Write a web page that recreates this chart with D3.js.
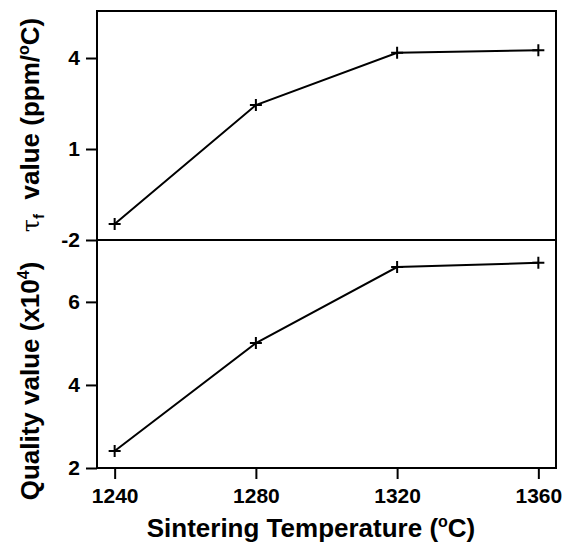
<!DOCTYPE html>
<html><head><meta charset="utf-8">
<script src="https://cdn.jsdelivr.net/npm/d3@7"></script>
<style>body{margin:0;background:#fff}</style>
</head><body>
<script>
const temps = [1240, 1280, 1320, 1360];
const tauValues = [-1.47, 2.45, 4.17, 4.26];
const qualityValues = [2.41, 5.01, 6.84, 6.94];
const xTicks = [1240, 1280, 1320, 1360];
const tauTicks = [-2, 1, 4];
const qualityTicks = [2, 4, 6];

const W = 568, H = 549;
const left = 97, right = 556, top1 = 11, mid = 240, bottom = 468;
const font = "'Liberation Sans', Arial, sans-serif";

const svg = d3.select("body").append("svg").attr("width", W).attr("height", H);

const x = d3.scaleLinear().domain([1235, 1365]).range([left, right]);
const yT = d3.scaleLinear().domain([-2, 5.55]).range([mid, top1]);
const yQ = d3.scaleLinear().domain([2, 7.49]).range([bottom, mid]);

function panel(y, vals, ticks, y0, y1) {
  const g = svg.append("g");
  g.append("rect").attr("x", left).attr("y", y1).attr("width", right - left).attr("height", y0 - y1)
    .attr("fill", "none").attr("stroke", "#000").attr("stroke-width", 2);
  const ax = g.append("g").attr("transform", `translate(${left},0)`)
    .call(d3.axisLeft(y).tickValues(ticks).tickSize(11).tickPadding(6).tickFormat(d => String(d)));
  ax.select(".domain").remove();
  ax.selectAll(".tick line").attr("stroke-width", 2);
  ax.selectAll(".tick text").attr("font-family", font).attr("font-weight", "bold").attr("font-size", 21).attr("fill", "#000");
  const line = d3.line().x((d, i) => x(temps[i])).y(d => y(d));
  g.append("path").datum(vals).attr("d", line).attr("fill", "none").attr("stroke", "#000").attr("stroke-width", 2);
  const s = 6;
  g.selectAll(".pt").data(vals).enter().append("path")
    .attr("d", (d, i) => { const px = x(temps[i]), py = y(d); return `M${px - s},${py}H${px + s}M${px},${py - s}V${py + s}`; })
    .attr("stroke", "#000").attr("stroke-width", 2);
}
panel(yT, tauValues, tauTicks, mid, top1);
panel(yQ, qualityValues, qualityTicks, bottom, mid);

const xa = svg.append("g").attr("transform", `translate(0,${bottom})`)
  .call(d3.axisBottom(x).tickValues(xTicks).tickSize(11).tickPadding(9).tickFormat(d => String(d)));
xa.select(".domain").remove();
xa.selectAll(".tick line").attr("stroke-width", 2);
xa.selectAll(".tick text").attr("font-family", font).attr("font-weight", "bold").attr("font-size", 21).attr("fill", "#000");

// x title
const xt = svg.append("text").attr("x", 311).attr("y", 537).attr("text-anchor", "middle")
  .attr("font-family", font).attr("font-weight", "bold").attr("font-size", 26);
xt.append("tspan").text("Sintering Temperature (");
xt.append("tspan").attr("font-size", 16).attr("dy", -10).text("o");
xt.append("tspan").attr("dy", 10).text("C)");

// top y title
const yt1 = svg.append("text").attr("transform", "translate(39,125) rotate(-90)").attr("text-anchor", "middle")
  .attr("xml:space", "preserve").style("white-space", "pre")
  .attr("font-family", font).attr("font-weight", "bold").attr("font-size", 26);
yt1.append("tspan").attr("font-weight", "normal").attr("font-family", "'DejaVu Serif', serif").attr("font-size", 24).text("τ");
yt1.append("tspan").attr("font-size", 15).attr("dy", 5).text("f");
yt1.append("tspan").attr("dy", -5).text("  value (ppm/");
yt1.append("tspan").attr("font-size", 16).attr("dy", -10).text("o");
yt1.append("tspan").attr("dy", 10).text("C)");

// bottom y title
const yt2 = svg.append("text").attr("transform", "translate(39,381) rotate(-90)").attr("text-anchor", "middle")
  .attr("font-family", font).attr("font-weight", "bold").attr("font-size", 26);
yt2.append("tspan").text("Quality value (x10");
yt2.append("tspan").attr("font-size", 16).attr("dy", -10).text("4");
yt2.append("tspan").attr("dy", 10).text(")");
</script>
</body></html>
